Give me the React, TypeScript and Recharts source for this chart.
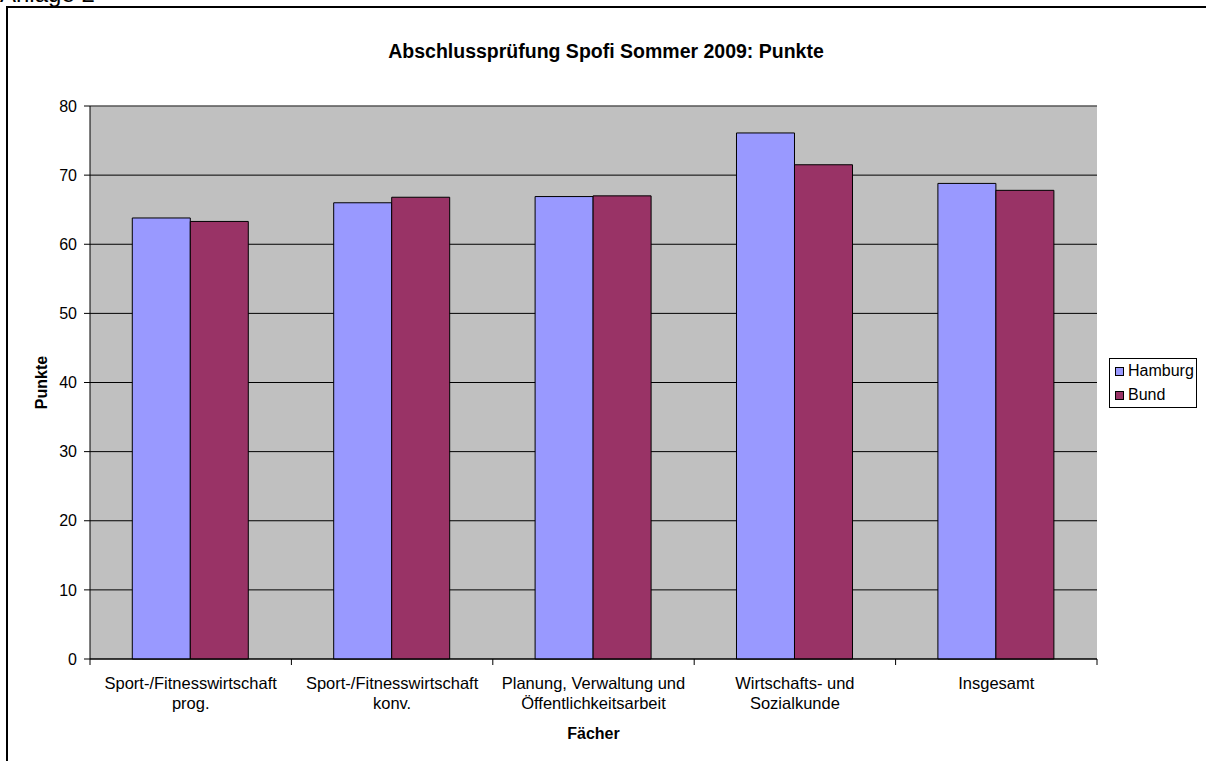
import React from 'react';
import { BarChart, Bar, XAxis, YAxis, CartesianGrid, Legend, ReferenceLine } from 'recharts';

const categories = [
  'Sport-/Fitnesswirtschaft\nprog.',
  'Sport-/Fitnesswirtschaft\nkonv.',
  'Planung, Verwaltung und\nÖffentlichkeitsarbeit',
  'Wirtschafts- und\nSozialkunde',
  'Insgesamt',
];
const seriesNames = ['Hamburg', 'Bund'];
const hamburg = [63.8, 66.0, 66.9, 76.1, 68.8];
const bund = [63.3, 66.8, 67.0, 71.5, 67.8];
const yTicks = [0, 10, 20, 30, 40, 50, 60, 70, 80];

const data = categories.map((name, i) => ({ name, Hamburg: hamburg[i], Bund: bund[i] }));

const FONT = '"Liberation Sans", Arial, sans-serif';

const CategoryTick = (props: any) => {
  const { x, y, payload, width, visibleTicksCount, index } = props;
  const half = payload.offset ?? width / visibleTicksCount / 2;
  const lines = String(payload.value).split('\n');
  return (
    <g>
      <line x1={x - half} y1={y} x2={x - half} y2={y + 6} stroke="#000" />
      {index === visibleTicksCount - 1 && (
        <line x1={x + half} y1={y} x2={x + half} y2={y + 6} stroke="#000" />
      )}
      <text x={x} y={y} textAnchor="middle" fontSize={16.5} fontFamily={FONT} fill="#000">
        {lines.map((l, i) => (
          <tspan key={i} x={x} y={y + 30 + i * 20}>{l}</tspan>
        ))}
      </text>
    </g>
  );
};

const LegendBox = (props: any) => {
  const items = [...(props.payload || [])].sort(
    (a: any, b: any) => seriesNames.indexOf(a.value) - seriesNames.indexOf(b.value)
  );
  return (
    <div style={{ border: '1px solid #000', background: '#fff', width: 86, fontFamily: FONT, fontSize: 16, color: '#000' }}>
      {items.map((it: any) => (
        <div key={it.value} style={{ display: 'flex', alignItems: 'center', height: 24, paddingLeft: 5 }}>
          <span style={{ display: 'inline-block', width: 7, height: 7, border: '1px solid #000', background: it.color, marginRight: 4 }} />
          {it.value}
        </div>
      ))}
    </div>
  );
};

export default function App() {
  return (
    <div style={{ position: 'absolute', left: 0, top: 0, width: 1206, height: 761, overflow: 'hidden', background: '#fff' }}>
      <div style={{ position: 'absolute', left: 0, top: 0 }}>
        <BarChart
          width={1206}
          height={761}
          data={data}
          margin={{ top: 106, right: 21, left: 10, bottom: 12 }}
          barCategoryGap="21%"
          barGap={0}
        >
          <CartesianGrid vertical={false} stroke="#000" fill="#C0C0C0" fillOpacity={1} />
          <XAxis
            dataKey="name"
            height={90}
            tickSize={0}
            tickMargin={0}
            interval={0}
            tick={<CategoryTick />}
            axisLine={{ stroke: '#000' }}
            label={{ value: 'Fächer', position: 'insideBottom', offset: 10, fontFamily: FONT, fontSize: 16, fontWeight: 'bold', fill: '#000' }}
          />
          <YAxis
            width={80}
            domain={[0, 80]}
            ticks={yTicks}
            interval={0}
            tickSize={6}
            tickMargin={7}
            axisLine={{ stroke: '#000' }}
            tickLine={{ stroke: '#000' }}
            tick={{ fontFamily: FONT, fontSize: 16, fill: '#000' }}
            label={{ value: 'Punkte', angle: -90, position: 'insideLeft', offset: 31, style: { textAnchor: 'middle' }, fontFamily: FONT, fontSize: 16, fontWeight: 'bold', fill: '#000' }}
          />
          <YAxis yAxisId="r" orientation="right" width={0} domain={[0, 80]} tick={false} tickLine={false} axisLine={{ stroke: '#808080' }} />
          <ReferenceLine y={80} stroke="#808080" />
          <Legend
            layout="horizontal"
            verticalAlign="middle"
            align="right"
            width={88}
            wrapperStyle={{ left: 1109, top: 358, width: 88 }}
            content={<LegendBox />}
          />
          <Bar dataKey="Hamburg" fill="#9999FF" stroke="#000" strokeWidth={1} isAnimationActive={false} />
          <Bar dataKey="Bund" fill="#993366" stroke="#000" strokeWidth={1} isAnimationActive={false} />
        </BarChart>
      </div>
      <div style={{ position: 'absolute', left: 0, top: 40, width: 1212, textAlign: 'center', fontFamily: FONT, fontWeight: 'bold', fontSize: 19.5, color: '#000' }}>
        Abschlussprüfung Spofi Sommer 2009: Punkte
      </div>
      <div style={{ position: 'absolute', left: 0, top: -18, fontFamily: FONT, fontSize: 24, lineHeight: '24px', color: '#000' }}>
        Anlage 2
      </div>
      <div
        style={{
          position: 'absolute',
          left: 6,
          top: 6,
          width: 1230,
          height: 800,
          borderLeft: '2px solid #000',
          borderTop: '2px solid #000',
          zIndex: 10,
          pointerEvents: 'none',
        }}
      />
    </div>
  );
}
